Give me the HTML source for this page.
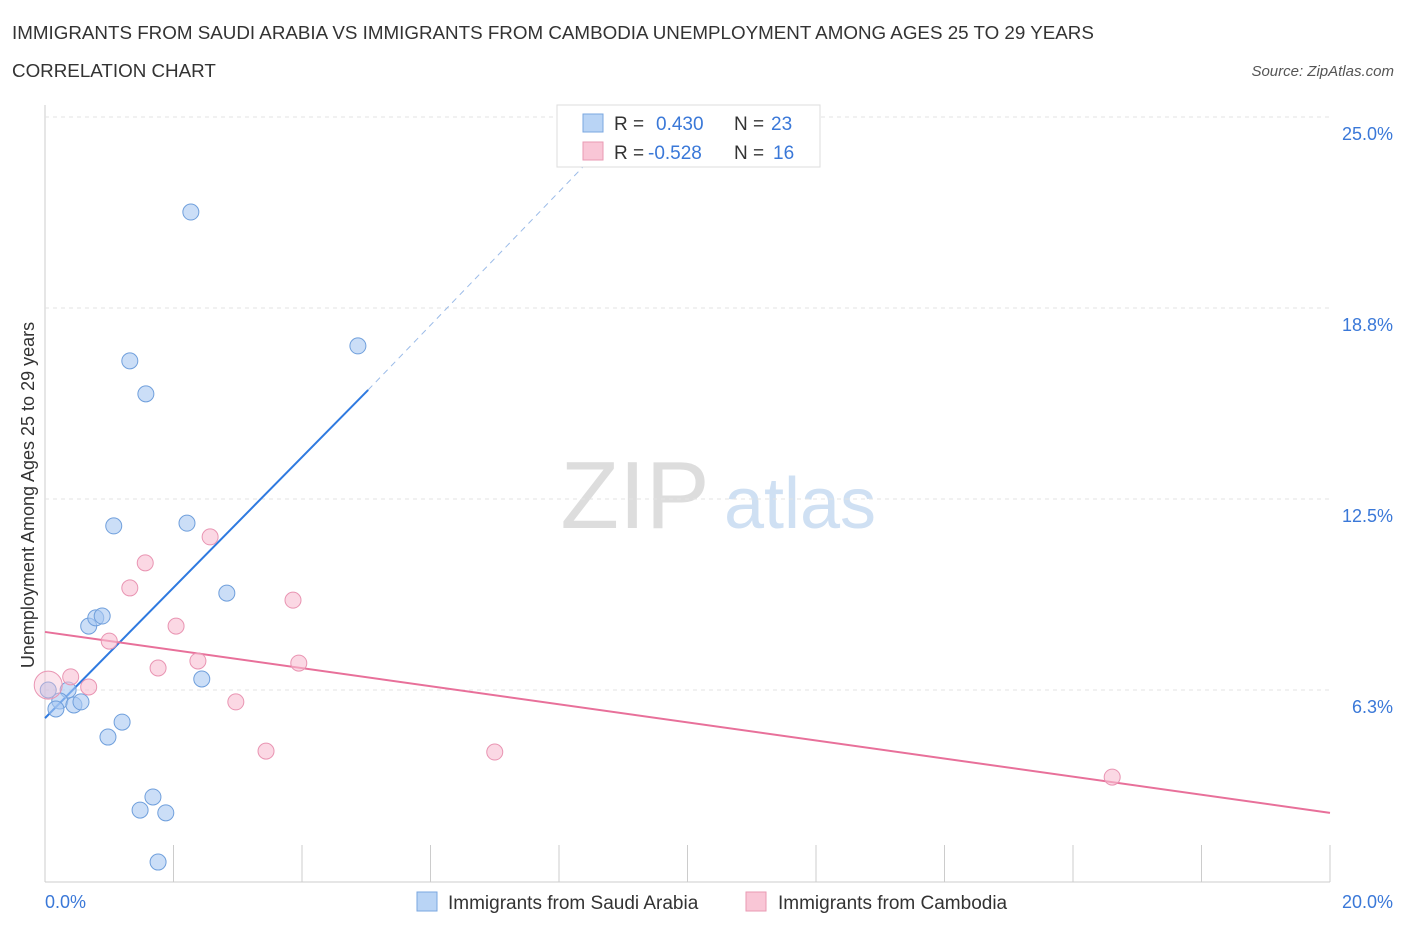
<!DOCTYPE html>
<html><head><meta charset="utf-8"><style>
body{margin:0;background:#fff;font-family:"Liberation Sans",sans-serif;}
svg text{font-family:"Liberation Sans",sans-serif;}
</style></head><body>
<svg id="chart" width="1406" height="930">
<text x="12" y="39" font-size="18.8" fill="#333">IMMIGRANTS FROM SAUDI ARABIA VS IMMIGRANTS FROM CAMBODIA UNEMPLOYMENT AMONG AGES 25 TO 29 YEARS</text>
<text x="12" y="77" font-size="18.8" fill="#333">CORRELATION CHART</text>
<text x="1394" y="76" font-size="15" fill="#555" font-style="italic" text-anchor="end">Source: ZipAtlas.com</text>
<text x="635" y="528" font-size="96" fill="#ddd" font-family="Liberation Serif" text-anchor="middle">ZIP</text>
<text x="800" y="528" font-size="72" fill="#cfe0f3" text-anchor="middle">atlas</text>
<text transform="translate(34,495) rotate(-90)" font-size="18" fill="#333" text-anchor="middle">Unemployment Among Ages 25 to 29 years</text>
<g id="grid"></g><g id="lines"></g><g id="pts"></g>
<g>
<rect x="557" y="105" width="263" height="62" fill="#fff" stroke="#ddd"/>
<rect x="583" y="114" width="20" height="18" fill="#b9d4f5" stroke="#7aa7e0"/>
<rect x="583" y="142" width="20" height="18" fill="#f9c6d6" stroke="#e99ab3"/>
<text x="614" y="130" font-size="19" fill="#333">R = </text><text x="656" y="130" font-size="19" fill="#3a78d8">0.430</text>
<text x="734" y="130" font-size="19" fill="#333">N = </text><text x="771" y="130" font-size="19" fill="#3a78d8">23</text>
<text x="614" y="159" font-size="19" fill="#333">R = </text><text x="648" y="159" font-size="19" fill="#3a78d8">-0.528</text>
<text x="734" y="159" font-size="19" fill="#333">N = </text><text x="773" y="159" font-size="19" fill="#3a78d8">16</text>
</g>
<g>
<rect x="417" y="892" width="20" height="19" fill="#b9d4f5" stroke="#7aa7e0"/>
<text x="448" y="909" font-size="19" fill="#333">Immigrants from Saudi Arabia</text>
<rect x="746" y="892" width="20" height="19" fill="#f9c6d6" stroke="#e99ab3"/>
<text x="778" y="909" font-size="19" fill="#333">Immigrants from Cambodia</text>
</g>
<text x="45" y="908" font-size="18" fill="#3a78d8">0.0%</text>
<text x="1393" y="908" font-size="18" fill="#3a78d8" text-anchor="end">20.0%</text>
</svg>
<script>
const yTicks=[25.0,18.8,12.5,6.3];
const yTickLabels=["25.0%","18.8%","12.5%","6.3%"];
const xTicks=[0,2,4,6,8,10,12,14,16,18,20];
const saudiX=[2.27,1.32,1.57,4.87,1.07,2.21,2.83,0.68,0.79,0.89,2.44,0.36,0.23,0.45,0.56,0.17,0.05,0.98,1.20,1.68,1.48,1.88,1.76];
const saudiY=[21.89,17.02,15.94,17.51,11.62,11.71,9.42,8.34,8.61,8.67,6.61,6.25,5.89,5.76,5.86,5.63,6.25,4.71,5.20,2.75,2.32,2.23,0.62];
const cambX=[2.57,1.56,1.32,3.86,2.04,1.00,2.38,1.76,3.95,0.40,0.68,2.97,3.44,7.00,16.61,0.05];
const cambY=[11.26,10.41,9.59,9.19,8.34,7.85,7.20,6.97,7.13,6.68,6.35,5.86,4.25,4.22,3.40,6.41];
const saudiLine=[[0,5.33],[5.03,16.07]];
const saudiDash=[[5.03,16.07],[8.48,23.6]];
const cambLine=[[0,8.15],[20,2.23]];
const X=v=>45+v*64.25, Y=v=>881-v*30.56;
const NS="http://www.w3.org/2000/svg";
function mk(p,t,a){const e=document.createElementNS(NS,t);for(const k in a)e.setAttribute(k,a[k]);p.appendChild(e);return e;}
const g=document.getElementById('grid');
mk(g,'line',{x1:45,y1:105,x2:45,y2:882,stroke:'#ccc'});
mk(g,'line',{x1:45,y1:882,x2:1330,y2:882,stroke:'#ccc'});
yTicks.forEach((t,i)=>{const y=t===6.3?Y(6.25):t===18.8?Y(18.75):Y(t);
const l=mk(g,'line',{x1:45,y1:y,x2:1330,y2:y,stroke:'#e3e3e3','stroke-dasharray':'4,4'});


const tx=mk(g,'text',{x:1393,y:y+23,'font-size':18,fill:'#3a78d8','text-anchor':'end'});tx.textContent=yTickLabels[i];

});
xTicks.forEach(t=>{const l=mk(g,'line',{x1:X(t),y1:845,x2:X(t),y2:882,stroke:'#ccc'});

});
const L=document.getElementById('lines');
let a=mk(L,'line',{x1:X(saudiLine[0][0]),y1:Y(saudiLine[0][1]),x2:X(saudiLine[1][0]),y2:Y(saudiLine[1][1]),stroke:'#2f7ae0','stroke-width':2});


a=mk(L,'line',{x1:X(saudiDash[0][0]),y1:Y(saudiDash[0][1]),x2:X(saudiDash[1][0]),y2:Y(saudiDash[1][1]),stroke:'#9bbbe8','stroke-width':1,'stroke-dasharray':'6,5'});


a=mk(L,'line',{x1:X(cambLine[0][0]),y1:Y(cambLine[0][1]),x2:X(cambLine[1][0]),y2:Y(cambLine[1][1]),stroke:'#e8709a','stroke-width':2});


const P=document.getElementById('pts');
saudiX.forEach((x,i)=>{const c=mk(P,'circle',{cx:X(x),cy:Y(saudiY[i]),r:8,fill:'rgba(168,200,242,0.6)',stroke:'#6f9fdc','stroke-width':1});

});
cambX.forEach((x,i)=>{const c=mk(P,'circle',{cx:X(x),cy:Y(cambY[i]),r:i===15?14:8,fill:i===15?'rgba(248,190,210,0.4)':'rgba(248,190,210,0.6)',stroke:'#e994b2','stroke-width':1});

});
</script>
</body></html>
